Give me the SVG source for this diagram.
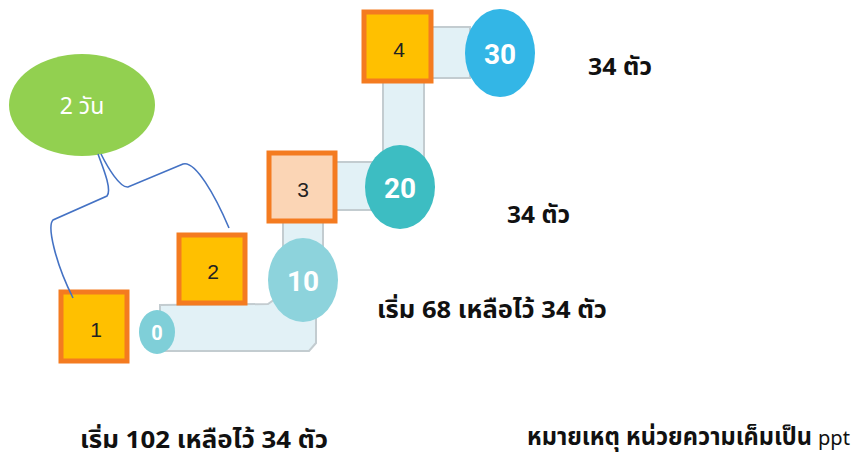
<svg xmlns="http://www.w3.org/2000/svg" width="851" height="455" viewBox="0 0 851 455">
<style>
.band{fill:#e2f1f6;stroke:#c3ccd0;stroke-width:2}
.box{fill:#ffc000;stroke:#f47b20;stroke-width:5}
.boxt{font-family:"Liberation Sans",Arial,sans-serif;font-size:21px;fill:#222;text-anchor:middle}
.ct{font-family:Roboto,"Liberation Sans",sans-serif;font-weight:bold;fill:#fff;text-anchor:middle}
.lbl{font-family:"Noto Sans","Noto Sans Thai","DejaVu Sans",sans-serif;font-weight:bold;font-size:24px;fill:#111}
.conn{fill:none;stroke:#4472c4;stroke-width:1.6}
</style>
<rect width="851" height="455" fill="#fff"/>
<g id="track">
<path class="band" d="M160,305 L268,304 L285,292 L300,300 L316,318 L316,343 L309,351 L160,351 Z"/>
<rect class="band" x="283" y="218" width="40" height="30"/>
<rect class="band" x="332" y="162" width="40" height="48"/>
<rect class="band" x="383" y="80" width="41" height="84"/>
<rect class="band" x="428" y="27" width="42" height="51"/>
</g>
<g id="c0"><ellipse cx="157" cy="332" rx="18" ry="22" fill="#7fcfd8"/><text class="ct" x="157" y="340" font-size="20">0</text></g>
<g id="c10"><ellipse cx="303" cy="280" rx="35" ry="42" fill="#8dd3dc"/><text class="ct" x="303" y="291" font-size="28">10</text></g>
<g id="c20"><ellipse cx="400" cy="187" rx="35" ry="42" fill="#3dbdc2"/><text class="ct" x="400" y="198" font-size="28">20</text></g>
<g id="c30"><ellipse cx="500" cy="53" rx="35" ry="44" fill="#33b6e6"/><text class="ct" x="500" y="64" font-size="28">30</text></g>
<g id="n1"><rect class="box" x="61" y="292" width="66" height="69"/><text class="boxt" x="96" y="337">1</text></g>
<g id="n2"><rect class="box" x="179" y="235" width="66" height="68"/><text class="boxt" x="213" y="279">2</text></g>
<g id="n3"><rect class="box" x="269" y="153" width="66" height="68" style="fill:#fbd5b5"/><text class="boxt" x="303" y="197">3</text></g>
<g id="n4"><rect class="box" x="364" y="12" width="67" height="69"/><text class="boxt" x="399" y="57">4</text></g>
<g id="bubble"><ellipse cx="82" cy="105" rx="73" ry="51" fill="#92d050"/><text x="82" y="114" font-family="'Noto Sans','Noto Sans Thai','DejaVu Sans',sans-serif" font-size="23" fill="#fff" text-anchor="middle">2 วัน</text></g>
<g id="connectors">
<path class="conn" d="M98,154 C104,170 112,190 107,196 L53,220 C47,226 55,262 73,298"/>
<path class="conn" d="M101,154 C108,168 120,188 128,187 L183,164 C195,160 215,195 229,228"/>
</g>
<g id="labels">
<text class="lbl" x="588" y="75" textLength="64" lengthAdjust="spacingAndGlyphs">34 ตัว</text>
<text class="lbl" x="507" y="223" textLength="63" lengthAdjust="spacingAndGlyphs">34 ตัว</text>
<text class="lbl" x="377" y="318" textLength="230" lengthAdjust="spacingAndGlyphs">เริ่ม 68 เหลือไว้ 34 ตัว</text>
<text class="lbl" x="80" y="448" textLength="248" lengthAdjust="spacingAndGlyphs">เริ่ม 102 เหลือไว้ 34 ตัว</text>
<text class="lbl" x="527" y="445" font-size="20" textLength="285" lengthAdjust="spacingAndGlyphs">หมายเหตุ หน่วยความเค็มเป็น</text>
<text x="818" y="445" font-family="'Noto Sans','DejaVu Sans',sans-serif" font-size="20" fill="#111" textLength="32" lengthAdjust="spacingAndGlyphs">ppt</text>
</g>
</svg>
